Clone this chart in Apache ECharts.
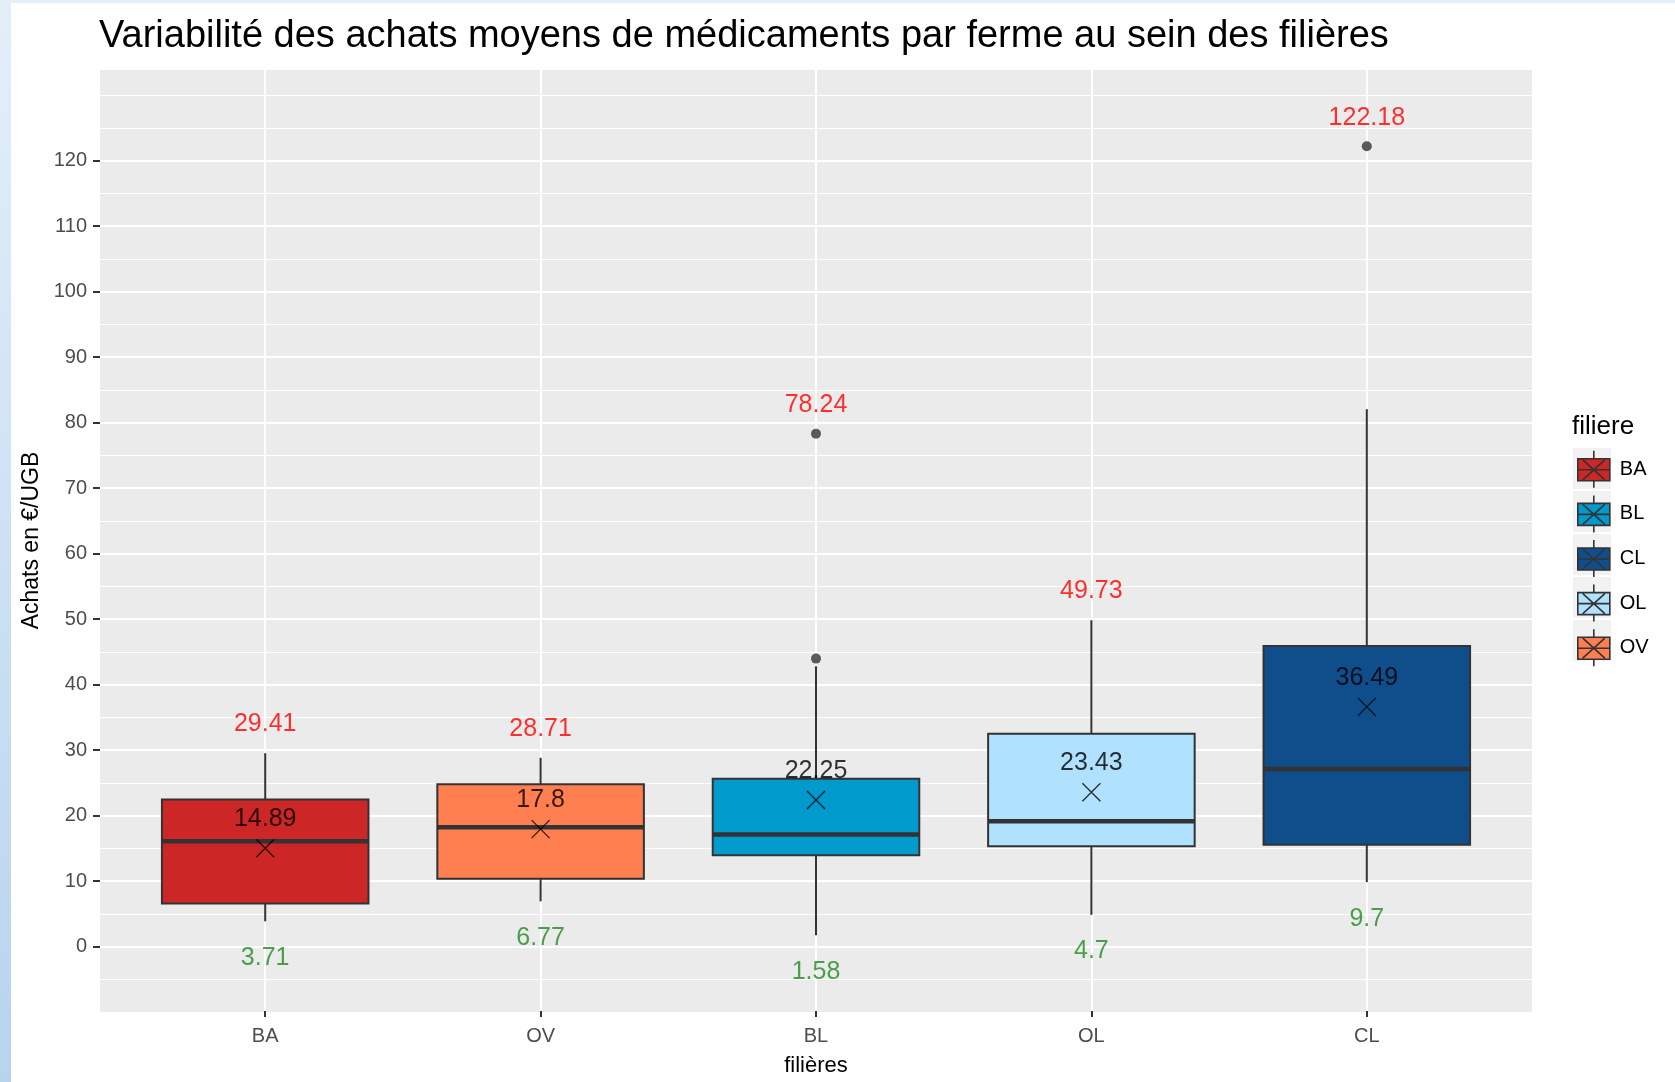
<!DOCTYPE html>
<html>
<head>
<meta charset="utf-8">
<title>Variabilité des achats moyens de médicaments</title>
<script src="https://cdn.jsdelivr.net/npm/echarts@6.0.0/dist/echarts.min.js"></script>
<style>
html, body { margin: 0; padding: 0; }
body {
  width: 1675px;
  height: 1082px;
  background:
    linear-gradient(#e4eef9, #e4eef9) left top / 100% 3px no-repeat,
    linear-gradient(to bottom, #e4eef9, #b7d3ee) left top / 11px 100% no-repeat,
    #ffffff;
}
#chart { width: 1675px; height: 1082px; }
</style>
</head>
<body>
<div id="chart"></div>
<script>
// filières, dans l'ordre de l'axe x
const categories = ['BA', 'OV', 'BL', 'OL', 'CL'];
// boîtes
const whiskerLow = [3.71, 6.77, 1.58, 4.7, 9.7];
const q1 = [6.45, 10.2, 13.8, 15.2, 15.4];
const median = [15.96, 18.1, 17.0, 19.0, 27.0];
const q3 = [22.33, 24.67, 25.5, 32.4, 45.8];
const whiskerHigh = [29.41, 28.71, 42.7, 49.73, 82.0];
// moyennes (croix) et étiquettes min / max
const means = [14.89, 17.8, 22.25, 23.43, 36.49];
const maxValues = [29.41, 28.71, 78.24, 49.73, 122.18];
const minValues = [3.71, 6.77, 1.58, 4.7, 9.7];
// points extrêmes
const outlierCats = ['BL', 'BL', 'CL'];
const outlierValues = [43.87, 78.24, 122.18];
// graduations
const yTicks = [0, 10, 20, 30, 40, 50, 60, 70, 80, 90, 100, 110, 120];
const legendOrder = ['BA', 'BL', 'CL', 'OL', 'OV'];
const fills = { BA: '#CD2626', OV: '#FF7F50', BL: '#009ACD', OL: '#B0E2FF', CL: '#104E8B' };

const FONT = '"Liberation Sans", Arial, sans-serif';
const LABEL_SHIFT = 5; // décalage des étiquettes, en unités de l'axe y

const chart = echarts.init(document.getElementById('chart'));

// dessin d'une boîte façon ggplot (pas de barre au bout des moustaches)
function renderBox(params, api) {
  const x = api.value(0);
  const half = api.size([1, 0])[0] * 0.75 / 2;
  const pLow = api.coord([x, api.value(1)]);
  const pQ1 = api.coord([x, api.value(2)]);
  const pMed = api.coord([x, api.value(3)]);
  const pQ3 = api.coord([x, api.value(4)]);
  const pHigh = api.coord([x, api.value(5)]);
  const edge = { stroke: '#333333', lineWidth: 2 };
  return {
    type: 'group',
    children: [
      { type: 'line', shape: { x1: pLow[0], y1: pLow[1], x2: pQ1[0], y2: pQ1[1] }, style: edge },
      { type: 'line', shape: { x1: pQ3[0], y1: pQ3[1], x2: pHigh[0], y2: pHigh[1] }, style: edge },
      {
        type: 'rect',
        shape: { x: pQ3[0] - half, y: pQ3[1], width: half * 2, height: pQ1[1] - pQ3[1] },
        style: { fill: api.visual('color'), stroke: '#333333', lineWidth: 2 }
      },
      {
        type: 'line',
        shape: { x1: pMed[0] - half, y1: pMed[1], x2: pMed[0] + half, y2: pMed[1] },
        style: { stroke: '#333333', lineWidth: 4.5 }
      }
    ]
  };
}

const boxSeries = categories.map(function (c, i) {
  return {
    name: c,
    type: 'custom',
    xAxisIndex: 1,
    yAxisIndex: 2,
    z: 3,
    silent: true,
    itemStyle: { color: fills[c] },
    renderItem: renderBox,
    encode: { x: 0, y: [1, 2, 3, 4, 5] },
    data: [[c, whiskerLow[i], q1[i], median[i], q3[i], whiskerHigh[i]]]
  };
});

function labelSeries(values, shift, color) {
  return {
    type: 'scatter',
    xAxisIndex: 1,
    yAxisIndex: 2,
    z: 6,
    silent: true,
    symbolSize: 1,
    itemStyle: { color: 'rgba(0,0,0,0)' },
    label: {
      show: true,
      position: 'inside',
      offset: [0, 4],
      color: color,
      fontSize: 25,
      fontFamily: FONT,
      formatter: function (p) { return String(p.value[2]); }
    },
    data: values.map(function (v, i) { return [categories[i], v + shift, v]; })
  };
}

// glyphe de légende : moustaches, boîte, médiane et croix
const keyGlyph = 'path://M16 0V8M0 8H32V30H0ZM0 19H32M16 30V37M5 9L27 29M27 9L5 29';

const option = {
  textStyle: { fontFamily: FONT },
  title: [
    {
      text: 'Variabilité des achats moyens de médicaments par ferme au sein des filières',
      left: 99,
      top: 18,
      padding: 0,
      textStyle: { fontSize: 38, fontWeight: 'normal', color: '#000', fontFamily: FONT }
    },
    {
      text: 'filiere',
      left: 1572,
      top: 414,
      padding: 0,
      textStyle: { fontSize: 26, fontWeight: 'normal', color: '#000', fontFamily: FONT }
    }
  ],
  legend: [
    {
      // fonds gris des clés
      data: legendOrder,
      orient: 'vertical',
      left: 1573,
      top: 448,
      padding: 0,
      itemGap: 2,
      itemWidth: 38,
      itemHeight: 41,
      icon: 'rect',
      selectedMode: false,
      z: 4,
      itemStyle: { color: '#f2f2f2', borderWidth: 0 },
      textStyle: { color: 'rgba(0,0,0,0)', fontSize: 20 }
    },
    {
      data: legendOrder,
      orient: 'vertical',
      left: 1577,
      top: 450,
      padding: 0,
      itemGap: 6,
      itemWidth: 32,
      itemHeight: 37,
      icon: keyGlyph,
      selectedMode: false,
      z: 5,
      itemStyle: { borderColor: '#333333', borderWidth: 1.6 },
      textStyle: { color: '#000', fontSize: 20, fontFamily: FONT, padding: [0, 0, 0, 5] }
    }
  ],
  grid: [
    { left: 100, top: 69, width: 1432, height: 943, show: true, backgroundColor: '#ebebeb', borderWidth: 0 },
    { left: 127.5, top: 69, width: 1377, height: 943 }
  ],
  xAxis: [
    { gridIndex: 0, type: 'value', show: false, min: 0, max: 1 },
    {
      gridIndex: 1,
      type: 'category',
      data: categories,
      boundaryGap: true,
      name: 'filières',
      nameLocation: 'middle',
      nameGap: 44,
      nameTextStyle: { color: '#000', fontSize: 22, fontFamily: FONT },
      axisLine: { show: false, onZero: false },
      axisTick: { show: true, alignWithLabel: true, length: 6, lineStyle: { color: '#333333', width: 2 } },
      axisLabel: { color: '#4d4d4d', fontSize: 20, margin: 15, interval: 0 },
      splitLine: { show: true, alignWithLabel: true, interval: 0, lineStyle: { color: '#ffffff', width: 2 } }
    }
  ],
  yAxis: [
    {
      gridIndex: 0,
      type: 'value',
      min: -10,
      max: 134,
      name: 'Achats en €/UGB',
      nameLocation: 'middle',
      nameRotate: 90,
      nameGap: 53,
      nameTextStyle: { color: '#000', fontSize: 23, fontFamily: FONT },
      axisLine: { show: false },
      axisTick: { show: true, length: 7, customValues: yTicks, lineStyle: { color: '#333333', width: 2 } },
      axisLabel: { show: true, customValues: yTicks, color: '#4d4d4d', fontSize: 20, margin: 13 },
      splitLine: { show: true, lineStyle: { color: '#ffffff', width: 2 } }
    },
    {
      // grille secondaire
      gridIndex: 0,
      type: 'value',
      min: -10,
      max: 134,
      interval: 5,
      position: 'right',
      axisLine: { show: false },
      axisTick: { show: false },
      axisLabel: { show: false },
      splitLine: { show: true, lineStyle: { color: '#ffffff', width: 1 } }
    },
    { gridIndex: 1, type: 'value', min: -10, max: 134, show: false }
  ],
  series: boxSeries.concat([
    {
      type: 'scatter',
      xAxisIndex: 1,
      yAxisIndex: 2,
      z: 5,
      silent: true,
      symbolSize: 10,
      itemStyle: { color: '#333333' },
      data: outlierCats.map(function (c, i) { return [c, outlierValues[i]]; })
    },
    {
      type: 'scatter',
      xAxisIndex: 1,
      yAxisIndex: 2,
      z: 5,
      silent: true,
      symbol: 'path://M0 0L10 10M10 0L0 10',
      symbolSize: 18,
      itemStyle: { color: 'rgba(0,0,0,0)', borderColor: '#000', borderWidth: 1.3 },
      data: means.map(function (v, i) { return [categories[i], v]; })
    },
    labelSeries(maxValues, LABEL_SHIFT, '#ff0000'),
    labelSeries(minValues, -LABEL_SHIFT, '#228b22'),
    labelSeries(means, LABEL_SHIFT, '#000000')
  ])
};

chart.setOption(option);
</script>
</body>
</html>
